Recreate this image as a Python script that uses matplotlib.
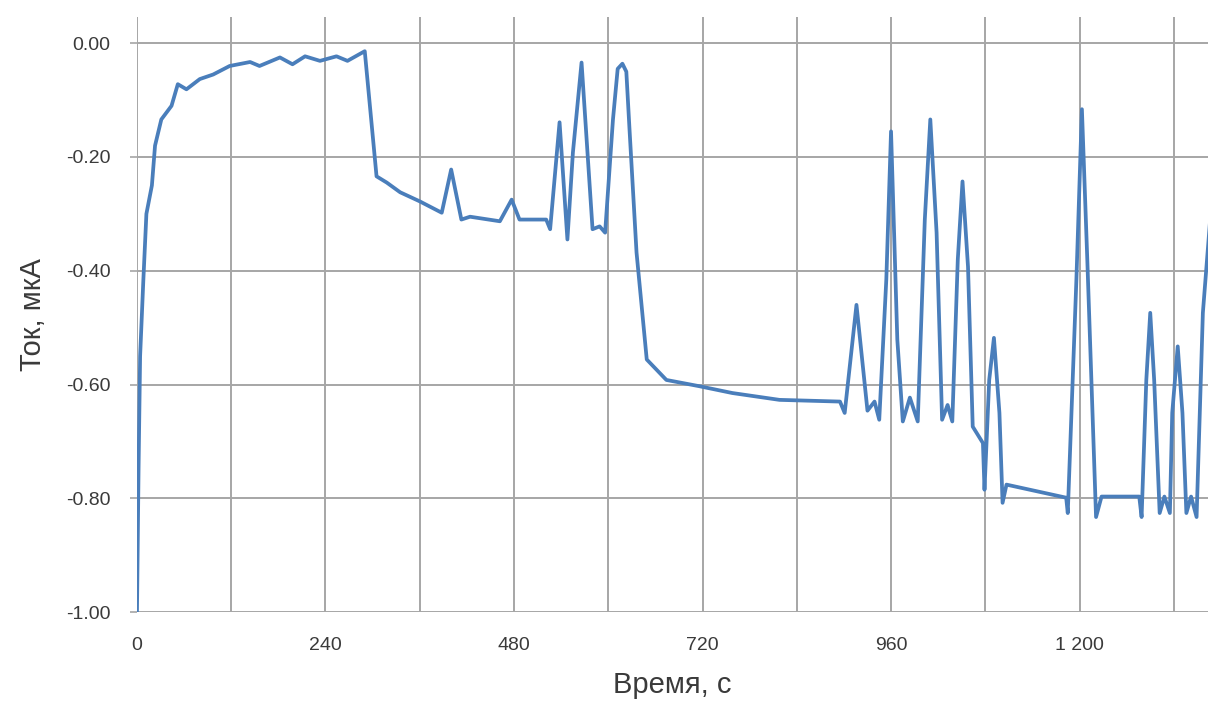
# Current vs time trace, redrawn from the reference picture.

import matplotlib.pyplot as plt
from matplotlib.ticker import FixedLocator, FuncFormatter

time_s = [0, 2, 4, 8, 12, 19, 23, 31, 44, 52, 63, 80, 97, 118, 144, 156, 182, 198,
          214, 233, 254, 268, 290, 305, 318, 335, 360, 388, 400, 413, 424, 462, 477,
          487, 521, 526, 538, 548, 555, 566, 580, 589, 596, 606, 612, 618, 623, 627, 636,
          649, 674, 716, 758, 818, 895, 901, 916, 930, 939, 945, 954, 960, 968, 975,
          984, 994, 1003, 1010, 1018, 1025, 1032, 1038, 1045, 1051, 1058, 1064, 1077,
          1079, 1085, 1091, 1098, 1102, 1107, 1183, 1185, 1196, 1203, 1210, 1221, 1228,
          1276, 1279, 1285, 1290, 1295, 1302, 1308, 1315, 1318, 1325, 1331, 1336, 1342,
          1349, 1357, 1366]
current_uA = [-1.00, -0.75, -0.55, -0.42, -0.30, -0.25, -0.18, -0.134, -0.11, -0.072,
              -0.081, -0.063, -0.055, -0.040, -0.033, -0.040, -0.025, -0.037, -0.023,
              -0.031, -0.023, -0.031, -0.014, -0.234, -0.245, -0.262, -0.278, -0.298,
              -0.222, -0.310, -0.305, -0.313, -0.275, -0.310, -0.310, -0.327, -0.139,
              -0.345, -0.192, -0.034, -0.327, -0.322, -0.333, -0.134, -0.045, -0.036,
              -0.050, -0.150, -0.368, -0.556, -0.592, -0.603, -0.615, -0.627, -0.630, -0.650,
              -0.460, -0.646, -0.630, -0.662, -0.415, -0.155, -0.521, -0.665, -0.623,
              -0.665, -0.310, -0.134, -0.333, -0.662, -0.636, -0.665, -0.380, -0.243,
              -0.393, -0.674, -0.703, -0.785, -0.592, -0.518, -0.650, -0.808, -0.776,
              -0.799, -0.826, -0.415, -0.116, -0.386, -0.833, -0.797, -0.797, -0.833,
              -0.592, -0.474, -0.592, -0.826, -0.797, -0.826, -0.650, -0.533, -0.650,
              -0.826, -0.797, -0.833, -0.474, -0.315]

x_ticks = [0, 240, 480, 720, 960, 1200]
y_ticks = [0.0, -0.2, -0.4, -0.6, -0.8, -1.0]

plt.rcParams['font.family'] = ['Liberation Sans', 'DejaVu Sans']

fig = plt.figure(figsize=(12.1, 7.11), dpi=100)
ax = fig.add_axes([0.1132, 0.1392, 0.8848, 0.8368])

ax.plot(time_s, current_uA, color='#4a7ebb', linewidth=2.7, zorder=3,
        solid_joinstyle='round')

ax.set_xlim(0, 1363)
ax.set_ylim(-1.0, 0.046)

ax.xaxis.set_major_locator(FixedLocator(x_ticks))
ax.xaxis.set_minor_locator(FixedLocator(list(range(120, 1363, 240))))
ax.yaxis.set_major_locator(FixedLocator(y_ticks))
ax.xaxis.set_major_formatter(FuncFormatter(lambda v, p: f"{int(v):,}".replace(",", " ")))
ax.yaxis.set_major_formatter(FuncFormatter(lambda v, p: f"{v:.2f}"))

ax.grid(True, which='both', color='#a6a6a6', linewidth=1.4)
ax.set_axisbelow(True)
for s in ax.spines.values():
    s.set_visible(False)

ax.tick_params(axis='x', which='both', length=0, pad=18, labelsize=14, labelcolor='#3a3a3a')
ax.tick_params(axis='y', length=5, width=1.2, color='#a6a6a6', pad=14, labelsize=14,
               labelcolor='#3a3a3a')

ax.set_xlabel("Время, с", fontsize=21, color='#3a3a3a', labelpad=12)
ax.set_ylabel("Ток, мкА", fontsize=21, color='#3a3a3a', labelpad=14)

fig.savefig("out.png", dpi=100)
